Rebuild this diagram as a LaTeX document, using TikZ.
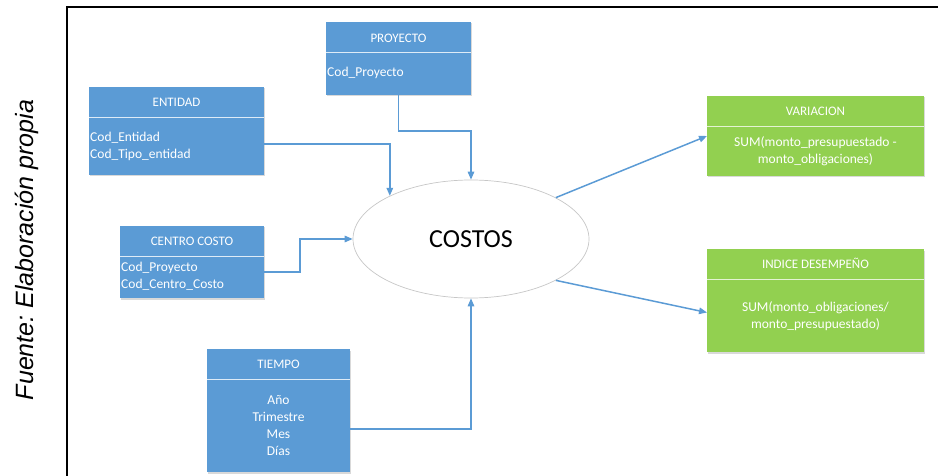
\documentclass[tikz,border=0pt]{standalone}
\usepackage{fontspec}
\setmainfont{Carlito}
\newfontfamily\captionfont{Liberation Sans}
\usetikzlibrary{arrows.meta,shapes.geometric,shadows,calc}
\definecolor{tblblue}{HTML}{5B9BD5}
\definecolor{tblgreen}{HTML}{92D050}
\definecolor{linkblue}{HTML}{5B9BD5}
\frenchspacing
\begin{document}
\begin{tikzpicture}[x=1pt,y=-1pt,
  tbl/.style={draw=none, inner sep=0pt, outer sep=0pt,
    drop shadow={shadow xshift=1.2pt, shadow yshift=-1.5pt, opacity=0.25, fill=black!60}},
  bluetbl/.style={tbl, fill=tblblue},
  greentbl/.style={tbl, fill=tblgreen},
  rule/.style={draw=white!80!tblblue, line width=0.8pt},
  grule/.style={draw=white!75!tblgreen, line width=0.8pt},
  head/.style={text=white, font=\fontsize{13}{15}\selectfont, inner sep=0pt},
  body/.style={text=white, font=\fontsize{13.5}{17}\selectfont, inner sep=0pt},
  link/.style={draw=linkblue, line width=1.5pt, -{Triangle[length=8pt,width=6.5pt]}},
]
\useasboundingbox (0,0) rectangle (938,476);

% frame and source caption
\draw[line width=2pt] (67,476) -- (67,7) -- (938,7);
\node[rotate=90, font=\captionfont\itshape\fontsize{25}{28}\selectfont] (src) at (27,250) {Fuente: Elaboración propia};

% fact ellipse
\node[ellipse, draw=black!22, line width=0.7pt, fill=white, minimum width=236pt, minimum height=118pt, inner sep=0pt,
      font=\fontsize{26}{30}\selectfont] (cost) at (471,239) {COSTOS};

% PROYECTO
\node[bluetbl, minimum width=145pt, minimum height=73pt] (proj) at (398.5,58.5) {};
\draw[rule] (326,52) -- (471,52);
\node[head] (projh) at (398.5,38) {PROYECTO};
\node[body, anchor=west] (projb) at (327,73) {Cod\_Proyecto};

% ENTIDAD
\node[bluetbl, minimum width=175pt, minimum height=88pt] (ent) at (176.5,131) {};
\draw[rule] (89,117) -- (264,117);
\node[head] (enth) at (176.5,102) {ENTIDAD};
\node[body, anchor=west, align=left] (entb) at (90,146) {Cod\_Entidad\\Cod\_Tipo\_entidad};

% CENTRO COSTO
\node[bluetbl, minimum width=144pt, minimum height=72pt] (cc) at (192,262) {};
\draw[rule] (120,256) -- (264,256);
\node[head] (cch) at (192,241) {CENTRO COSTO};
\node[body, anchor=west, align=left] (ccb) at (121,276.5) {Cod\_Proyecto\\Cod\_Centro\_Costo};

% TIEMPO
\node[bluetbl, minimum width=143pt, minimum height=123pt] (tie) at (278.5,410.5) {};
\draw[rule] (207,379) -- (350,379);
\node[head] (tieh) at (278.5,364) {TIEMPO};
\node[body, align=center] (tieb) at (278.5,426) {Año\\Trimestre\\Mes\\Días};

% VARIACION
\node[greentbl, minimum width=217pt, minimum height=80pt] (var) at (815.5,136) {};
\draw[grule] (707,126) -- (924,126);
\node[head] (varh) at (815.5,111) {VARIACION};
\node[body, align=center] (varb) at (815.5,151.5) {SUM(monto\_presupuestado -\\monto\_obligaciones)};

% INDICE DESEMPEÑO
\node[greentbl, minimum width=217pt, minimum height=103pt] (ind) at (815.5,300.5) {};
\draw[grule] (707,279) -- (924,279);
\node[head] (indh) at (815.5,263.5) {INDICE DESEMPEÑO};
\node[body, align=center] (indb) at (815.5,316.5) {SUM(monto\_obligaciones/\\monto\_presupuestado)};

% connectors
\draw[link] (proj.south) -- ++(0,36) -| (cost.north);
\draw[link] ([yshift=-13pt]ent.east) -| (cost.152.7);
\draw[link] ([yshift=-10pt]cc.east) -- ++(36,0) |- (cost.west);
\draw[link] ([yshift=-18.5pt]tie.east) -| (cost.south);
\draw[link] (cost.26) -- (var.west);
\draw[link] (cost.-26) -- ([yshift=-12pt]ind.west);
\end{tikzpicture}
\end{document}
